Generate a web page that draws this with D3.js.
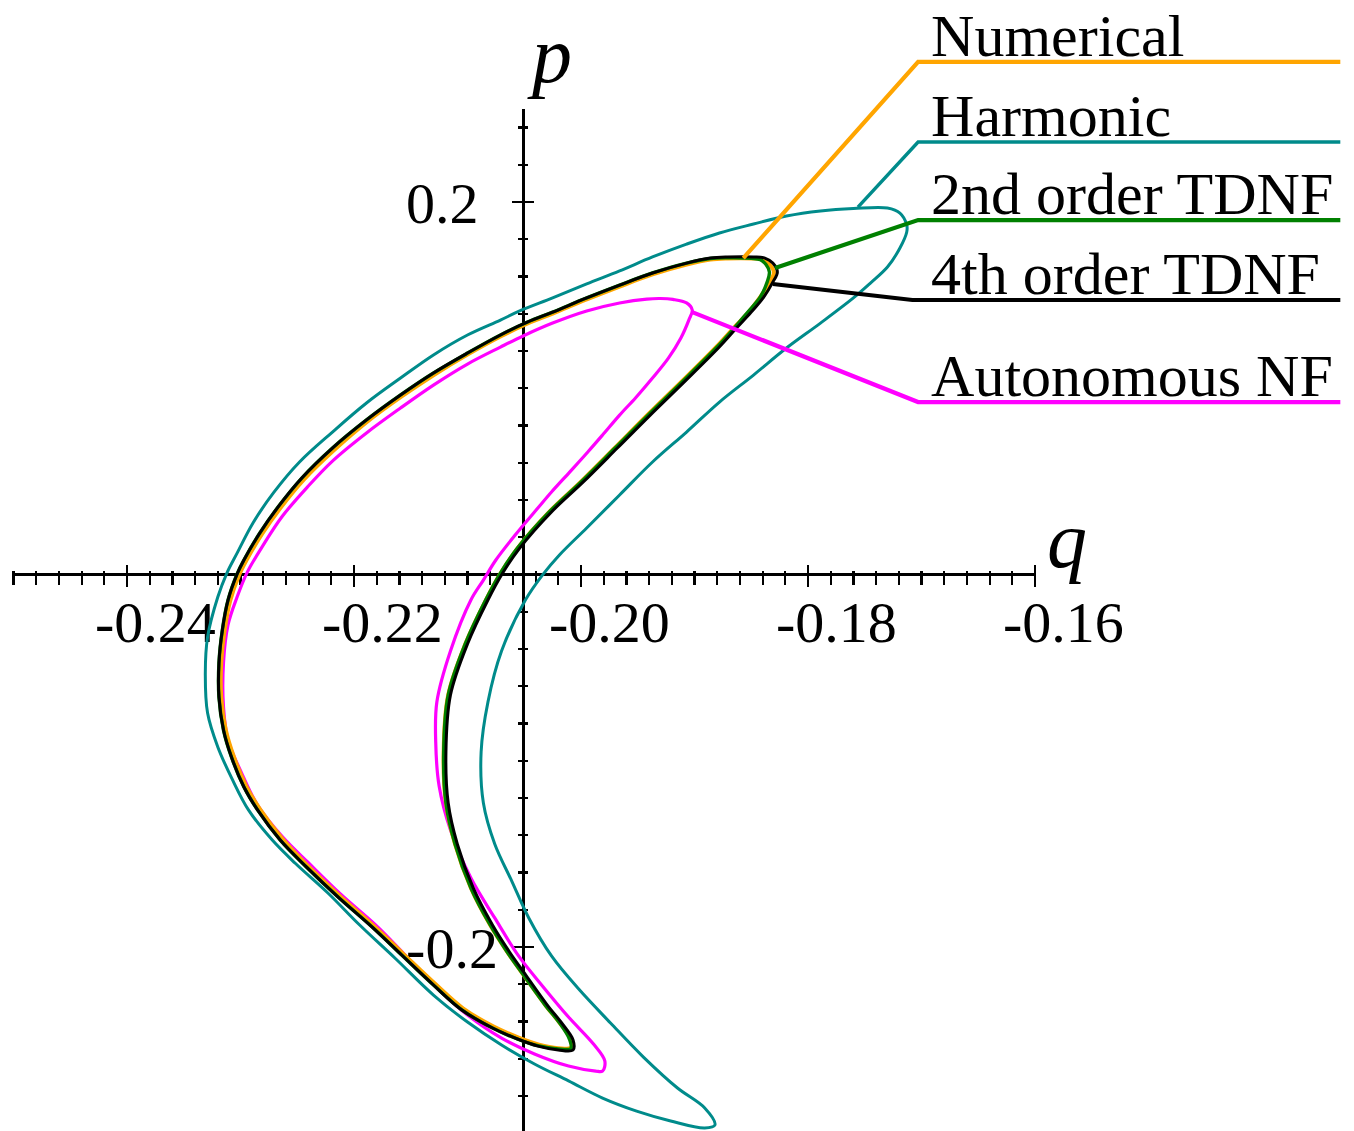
<!DOCTYPE html>
<html>
<head>
<meta charset="utf-8">
<script src="https://cdn.jsdelivr.net/npm/d3@7"></script>
<style>
  html, body { margin: 0; padding: 0; background: #ffffff; }
  svg { display: block; }
</style>
</head>
<body>
<svg id="chart" width="1354" height="1131"></svg>
<script>
// Phase-plane orbits (q, p) of the periodic response, one closed curve per method.
const numericalOrbit = [
  [-0.1830,0.1622],[-0.1834,0.1666],[-0.1840,0.1692],[-0.1849,0.1697],[-0.1871,0.1697],[-0.1886,0.1691],
  [-0.1907,0.1664],[-0.1937,0.1611],[-0.1966,0.1546],[-0.1995,0.1477],[-0.2025,0.1401],[-0.2047,0.1348],
  [-0.2071,0.1278],[-0.2100,0.1181],[-0.2129,0.1074],[-0.2158,0.0956],[-0.2188,0.0822],[-0.2217,0.0671],
  [-0.2244,0.0511],[-0.2265,0.0356],[-0.2281,0.0218],[-0.2295,0.0074],[-0.2301,0.0000],[-0.2309,-0.0139],
  [-0.2314,-0.0298],[-0.2317,-0.0475],[-0.2317,-0.0658],
  [-0.2313,-0.0833],[-0.2306,-0.0976],[-0.2295,-0.1136],[-0.2283,-0.1258],[-0.2263,-0.1419],[-0.2241,-0.1562],
  [-0.2213,-0.1723],[-0.2183,-0.1884],[-0.2157,-0.2034],[-0.2129,-0.2195],[-0.2104,-0.2329],[-0.2077,-0.2427],
  [-0.2055,-0.2486],[-0.2037,-0.2524],[-0.2020,-0.2543],
  [-0.2009,-0.2541],[-0.2009,-0.2495],[-0.2019,-0.2405],[-0.2031,-0.2315],[-0.2050,-0.2155],[-0.2065,-0.2026],
  [-0.2080,-0.1882],[-0.2097,-0.1683],[-0.2111,-0.1447],[-0.2119,-0.1227],[-0.2121,-0.0953],[-0.2117,-0.0647],
  [-0.2102,-0.0375],[-0.2084,-0.0140],[-0.2071,0.0005],[-0.2056,0.0140],[-0.2028,0.0336],[-0.2000,0.0498],
  [-0.1970,0.0681],[-0.1941,0.0859],[-0.1911,0.1038],[-0.1881,0.1221],[-0.1865,0.1327],[-0.1852,0.1411],
  [-0.1842,0.1490],[-0.1834,0.1568]
];

const harmonicOrbit = [
  [-0.1713,0.1877],[-0.1719,0.1941],[-0.1730,0.1968],[-0.1760,0.1965],[-0.1789,0.1952],[-0.1819,0.1925],
  [-0.1848,0.1882],[-0.1878,0.1834],[-0.1907,0.1774],[-0.1937,0.1705],[-0.1966,0.1630],[-0.1995,0.1560],
  [-0.2025,0.1485],[-0.2054,0.1415],[-0.2071,0.1366],[-0.2100,0.1286],[-0.2130,0.1179],[-0.2159,0.1055],
  [-0.2189,0.0921],[-0.2219,0.0765],[-0.2248,0.0604],[-0.2271,0.0438],[-0.2289,0.0277],[-0.2303,0.0115],
  [-0.2312,0.0008],[-0.2320,-0.0121],[-0.2329,-0.0336],[-0.2331,-0.0529],[-0.2329,-0.0744],[-0.2320,-0.0926],
  [-0.2307,-0.1103],[-0.2293,-0.1264],[-0.2272,-0.1426],[-0.2252,-0.1549],[-0.2223,-0.1710],[-0.2195,-0.1882],
  [-0.2164,-0.2059],[-0.2130,-0.2258],[-0.2100,-0.2403],[-0.2070,-0.2526],[-0.2041,-0.2628],[-0.2011,-0.2719],
  [-0.1981,-0.2811],[-0.1951,-0.2881],[-0.1921,-0.2934],[-0.1891,-0.2972],[-0.1882,-0.2956],[-0.1891,-0.2864],
  [-0.1915,-0.2757],[-0.1945,-0.2591],[-0.1974,-0.2408],[-0.2002,-0.2226],[-0.2026,-0.2048],[-0.2046,-0.1844],
  [-0.2061,-0.1646],[-0.2076,-0.1447],[-0.2086,-0.1227],[-0.2088,-0.0953],[-0.2082,-0.0685],[-0.2070,-0.0411],
  [-0.2049,-0.0137],[-0.2034,-0.0003],[-0.2019,0.0105],[-0.1995,0.0250],[-0.1966,0.0427],[-0.1937,0.0604],
  [-0.1907,0.0765],[-0.1878,0.0926],[-0.1848,0.1071],[-0.1819,0.1216],[-0.1789,0.1350],[-0.1760,0.1485],
  [-0.1745,0.1565],[-0.1730,0.1651],[-0.1719,0.1753],[-0.1713,0.1839]
];

const tdnf2Orbit = [
  [-0.1834,0.1624],[-0.1837,0.1665],[-0.1842,0.1690],[-0.1850,0.1698],[-0.1871,0.1701],[-0.1886,0.1697],
  [-0.1907,0.1672],[-0.1937,0.1619],[-0.1966,0.1554],[-0.1995,0.1485],[-0.2025,0.1409],[-0.2047,0.1356],
  [-0.2071,0.1286],[-0.2100,0.1189],[-0.2130,0.1082],[-0.2159,0.0964],[-0.2189,0.0830],[-0.2219,0.0679],
  [-0.2246,0.0518],[-0.2267,0.0362],[-0.2283,0.0223],[-0.2297,0.0078],[-0.2303,0.0003],[-0.2311,-0.0137],
  [-0.2316,-0.0298],[-0.2319,-0.0475],[-0.2319,-0.0658],
  [-0.2315,-0.0835],[-0.2308,-0.0980],[-0.2297,-0.1141],[-0.2285,-0.1264],[-0.2265,-0.1426],[-0.2242,-0.1570],
  [-0.2214,-0.1732],[-0.2184,-0.1893],[-0.2158,-0.2043],[-0.2130,-0.2204],[-0.2105,-0.2338],[-0.2078,-0.2435],
  [-0.2056,-0.2494],[-0.2038,-0.2530],[-0.2020,-0.2547],
  [-0.2009,-0.2545],[-0.2010,-0.2497],[-0.2019,-0.2407],[-0.2031,-0.2316],[-0.2050,-0.2156],[-0.2065,-0.2027],
  [-0.2080,-0.1882],[-0.2097,-0.1683],[-0.2111,-0.1447],[-0.2119,-0.1227],[-0.2121,-0.0953],[-0.2117,-0.0647],
  [-0.2102,-0.0373],[-0.2084,-0.0137],[-0.2071,0.0008],[-0.2056,0.0142],[-0.2028,0.0336],[-0.2000,0.0497],
  [-0.1970,0.0679],[-0.1941,0.0856],[-0.1911,0.1034],[-0.1881,0.1216],[-0.1865,0.1323],[-0.1853,0.1409],
  [-0.1842,0.1490],[-0.1836,0.1570]
];

const tdnf4Orbit = [
  [-0.1827,0.1624],[-0.1831,0.1672],[-0.1838,0.1699],[-0.1848,0.1705],[-0.1871,0.1705],[-0.1886,0.1699],
  [-0.1907,0.1672],[-0.1937,0.1619],[-0.1966,0.1554],[-0.1995,0.1485],[-0.2025,0.1409],[-0.2047,0.1356],
  [-0.2071,0.1286],[-0.2100,0.1189],[-0.2130,0.1082],[-0.2159,0.0964],[-0.2189,0.0830],[-0.2219,0.0679],
  [-0.2246,0.0518],[-0.2267,0.0362],[-0.2283,0.0223],[-0.2297,0.0078],[-0.2303,0.0003],[-0.2311,-0.0137],
  [-0.2316,-0.0298],[-0.2319,-0.0475],[-0.2319,-0.0658],
  [-0.2315,-0.0835],[-0.2308,-0.0980],[-0.2297,-0.1141],[-0.2285,-0.1264],[-0.2265,-0.1426],[-0.2242,-0.1570],
  [-0.2214,-0.1732],[-0.2184,-0.1893],[-0.2158,-0.2043],[-0.2130,-0.2204],[-0.2105,-0.2338],[-0.2078,-0.2435],
  [-0.2056,-0.2494],[-0.2038,-0.2532],[-0.2020,-0.2553],
  [-0.2007,-0.2553],[-0.2007,-0.2499],[-0.2017,-0.2408],[-0.2029,-0.2317],[-0.2048,-0.2156],[-0.2063,-0.2027],
  [-0.2078,-0.1882],[-0.2095,-0.1683],[-0.2109,-0.1447],[-0.2117,-0.1227],[-0.2119,-0.0953],[-0.2115,-0.0647],
  [-0.2100,-0.0373],[-0.2082,-0.0137],[-0.2069,0.0008],[-0.2054,0.0142],[-0.2026,0.0336],[-0.1998,0.0497],
  [-0.1968,0.0679],[-0.1939,0.0856],[-0.1909,0.1034],[-0.1879,0.1216],[-0.1863,0.1323],[-0.1850,0.1409],
  [-0.1839,0.1490],[-0.1831,0.1570]
];

const autonomousOrbit = [
  [-0.1902,0.1420],[-0.1907,0.1458],[-0.1919,0.1477],[-0.1930,0.1482],[-0.1942,0.1479],[-0.1966,0.1458],
  [-0.1995,0.1415],[-0.2025,0.1350],[-0.2051,0.1281],[-0.2071,0.1221],[-0.2100,0.1130],[-0.2130,0.1017],
  [-0.2159,0.0894],[-0.2189,0.0760],[-0.2219,0.0609],[-0.2241,0.0470],[-0.2263,0.0314],[-0.2280,0.0158],
  [-0.2294,0.0013],[-0.2303,-0.0121],[-0.2311,-0.0271],[-0.2315,-0.0475],[-0.2315,-0.0711],[-0.2311,-0.0889],
  [-0.2299,-0.1066],[-0.2285,-0.1238],[-0.2263,-0.1409],[-0.2240,-0.1549],[-0.2211,-0.1721],[-0.2181,-0.1882],
  [-0.2155,-0.2043],[-0.2127,-0.2220],[-0.2100,-0.2365],[-0.2070,-0.2489],[-0.2041,-0.2574],[-0.2011,-0.2639],
  [-0.1987,-0.2666],[-0.1981,-0.2666],[-0.1979,-0.2612],[-0.1989,-0.2521],[-0.2011,-0.2376],[-0.2034,-0.2209],
  [-0.2055,-0.2048],[-0.2076,-0.1844],[-0.2097,-0.1630],[-0.2115,-0.1372],[-0.2125,-0.1136],[-0.2128,-0.0899],
  [-0.2127,-0.0685],[-0.2115,-0.0411],[-0.2097,-0.0137],[-0.2086,-0.0030],[-0.2075,0.0078],[-0.2058,0.0212],
  [-0.2038,0.0357],[-0.2026,0.0443],[-0.2010,0.0550],[-0.1994,0.0658],[-0.1981,0.0749],[-0.1966,0.0856],
  [-0.1952,0.0948],[-0.1937,0.1055],[-0.1923,0.1162],[-0.1912,0.1270],[-0.1905,0.1366]
];

// Legend: label, colour, point on the orbit the leader starts from, elbow and level of the underline
const legendLabels  = ["Numerical", "Harmonic", "2nd order TDNF", "4th order TDNF", "Autonomous NF"];
const legendColors  = ["#FFA500", "#008B8B", "#008000", "#000000", "#FF00FF"];
const legendAnchors = [[-0.1857,0.1699], [-0.1756,0.1973], [-0.1829,0.1646], [-0.1831,0.1560], [-0.1902,0.1409]];
const legendElbowQ  = [-0.1703, -0.1703, -0.1703, -0.1708, -0.1703];
const legendLevelP  = [0.2752, 0.2322, 0.1903, 0.1474, 0.0926];
const legendEndQ    = -0.1331;

// Axis ranges, crossing point and labelled ticks
const qRange = [-0.25, -0.16];
const pRange = [-0.3, 0.25];
const pAxisAtQ = -0.2051;
const qTickLabels = [["-0.24",-0.24], ["-0.22",-0.22], ["-0.20",-0.20], ["-0.18",-0.18], ["-0.16",-0.16]];
const pTickLabels = [["0.2",0.2], ["-0.2",-0.2]];

const svg = d3.select("#chart");
const serif = "'Liberation Serif','Times New Roman',serif";

const x = d3.scaleLinear().domain(qRange).range([13.5, 1035]);
const y = d3.scaleLinear().domain(pRange).range([1133.25, 108.9]);

const x0 = x(pAxisAtQ), y0 = y(0);

// ---- axes ----
const axes = svg.append("g").attr("stroke", "#000").attr("shape-rendering", "crispEdges");
axes.append("line").attr("x1", x(qRange[0])).attr("x2", x(qRange[1]))
  .attr("y1", y0).attr("y2", y0).attr("stroke-width", 2.8);
axes.append("line").attr("x1", x0).attr("x2", x0)
  .attr("y1", y(pRange[0])).attr("y2", y(pRange[1])).attr("stroke-width", 2.8);

const isMajorQ = v => qTickLabels.some(t => Math.abs(t[1] - v) < 1e-9);
const isMajorP = v => pTickLabels.some(t => Math.abs(t[1] - v) < 1e-9);

d3.range(-250, -159, 2).map(v => v / 1000).forEach(v => {
  const major = isMajorQ(v);
  axes.append("line").attr("x1", x(v)).attr("x2", x(v))
    .attr("y1", y0 - (major ? 10 : 4)).attr("y2", y0 + (major ? 12 : 10))
    .attr("stroke-width", 2.2);
});
d3.range(-300, 241, 20).map(v => v / 1000).forEach(v => {
  if (Math.abs(v) < 1e-9) return;
  const major = isMajorP(v);
  axes.append("line").attr("x1", x0 - (major ? 11 : 5)).attr("x2", x0 + (major ? 11 : 5))
    .attr("y1", y(v)).attr("y2", y(v)).attr("stroke-width", 2.2);
});

// tick labels
const labels = svg.append("g").attr("font-family", serif).attr("fill", "#000");
qTickLabels.forEach(([txt, v]) => {
  labels.append("text").attr("x", x(v) - 32).attr("y", y0 + 67)
    .attr("font-size", 58).text(txt);
});
pTickLabels.forEach(([txt, v]) => {
  labels.append("text").attr("x", x0 - 117).attr("y", y(v) + 21)
    .attr("font-size", 58).text(txt);
});

// axis names
labels.append("text").attr("x", x(qRange[1]) + 12).attr("y", y0 - 8)
  .attr("font-size", 80).attr("font-style", "italic").text("q");
labels.append("text").attr("x", x0 + 9).attr("y", y(pRange[1]) - 27)
  .attr("font-size", 80).attr("font-style", "italic").text("p");

// ---- orbits ----
const orbitLine = d3.line()
  .x(d => x(d[0])).y(d => y(d[1]))
  .curve(d3.curveCatmullRomClosed.alpha(0.5));

const orbits = [
  { data: harmonicOrbit,   color: legendColors[1], width: 3.0 },
  { data: autonomousOrbit, color: legendColors[4], width: 3.2 },
  { data: numericalOrbit,  color: legendColors[0], width: 4.0 },
  { data: tdnf2Orbit,      color: legendColors[2], width: 3.4 },
  { data: tdnf4Orbit,      color: legendColors[3], width: 3.0 }
];
svg.append("g").selectAll("path").data(orbits).join("path")
  .attr("d", d => orbitLine(d.data))
  .attr("fill", "none")
  .attr("stroke", d => d.color)
  .attr("stroke-width", d => d.width)
  .attr("stroke-linejoin", "round");

// ---- legend with leader lines ----
const legend = svg.append("g");
legendLabels.forEach((label, i) => {
  const [aq, ap] = legendAnchors[i];
  const pts = [[aq, ap], [legendElbowQ[i], legendLevelP[i]], [legendEndQ, legendLevelP[i]]];
  legend.append("path")
    .attr("d", d3.line().x(d => x(d[0])).y(d => y(d[1]))(pts))
    .attr("fill", "none")
    .attr("stroke", legendColors[i])
    .attr("stroke-width", i === 1 ? 3.4 : 4.2);
  legend.append("text")
    .attr("x", x(-0.1703) + 13)
    .attr("y", y(legendLevelP[i]) - 6)
    .attr("font-family", serif)
    .attr("font-size", 60)
    .attr("fill", "#000")
    .text(label);
});
</script>
</body>
</html>
